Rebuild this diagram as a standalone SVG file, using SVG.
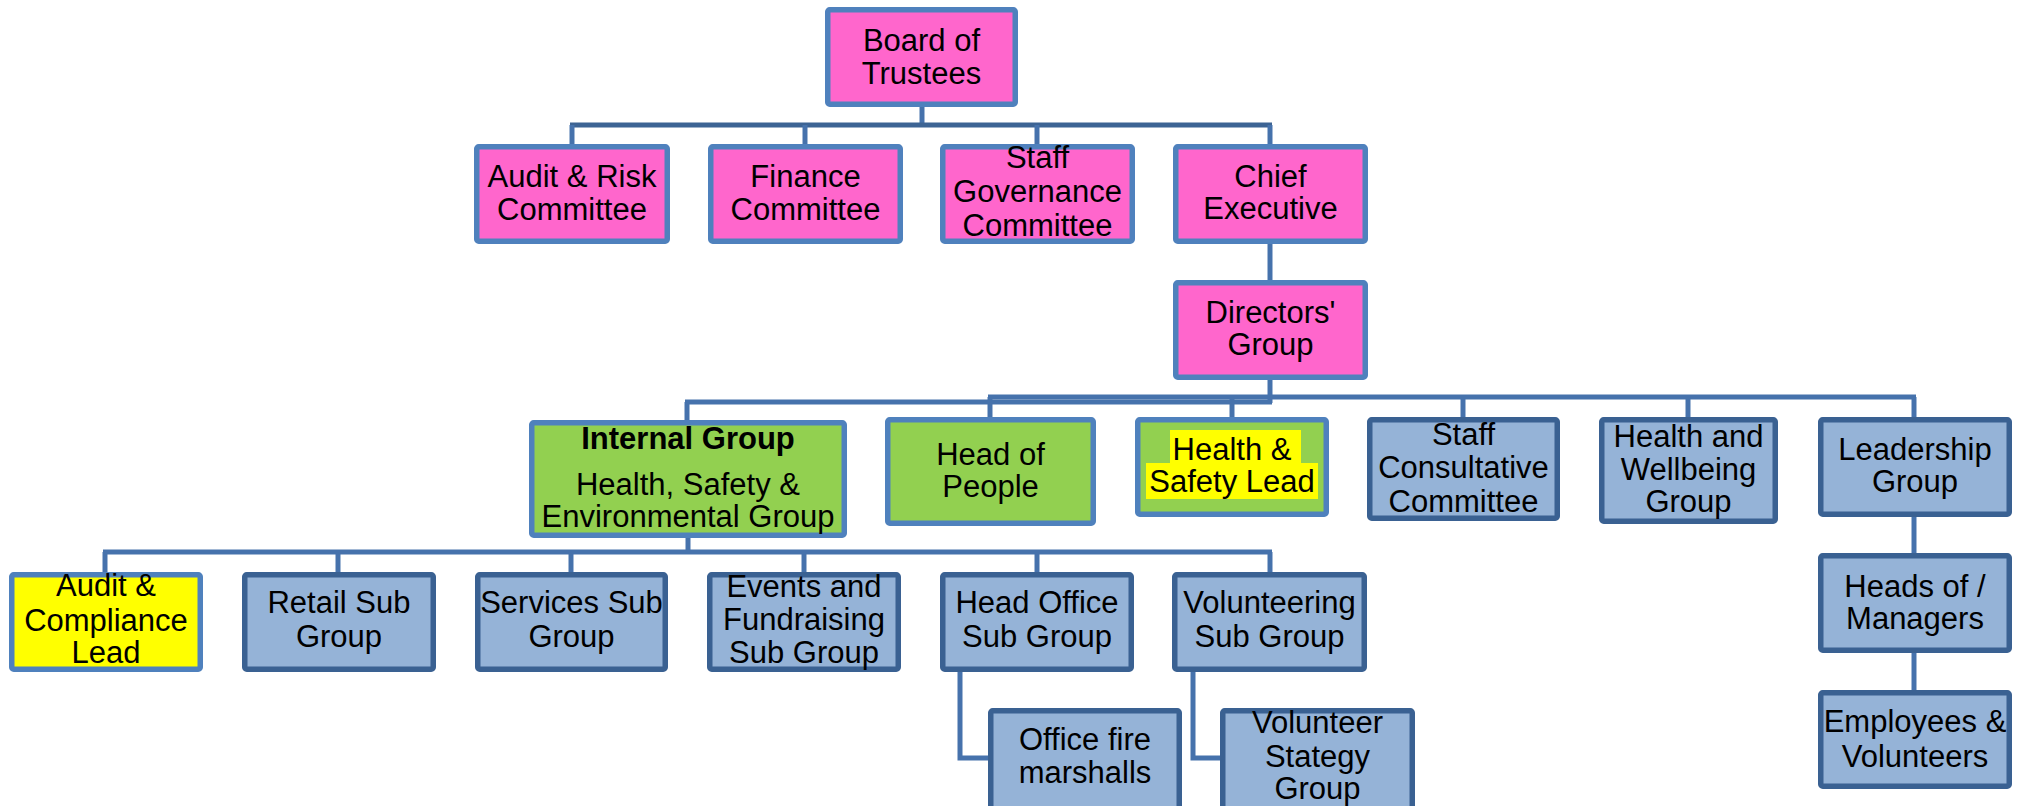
<svg xmlns="http://www.w3.org/2000/svg" width="2027" height="806" viewBox="0 0 2027 806">
  <style>
    .box rect { stroke-width: 5.5; }
    .pink rect { fill: #FF66CC; stroke: #4F81BD; }
    .green rect { fill: #92D050; stroke: #4F81BD; }
    .yellow rect { fill: #FFFF00; stroke: #4F81BD; }
    .blue rect { fill: #95B3D7; stroke: #3A6192; }
    text { font-family: "Liberation Sans", Arial, sans-serif; font-size: 31px; fill: #000; text-anchor: middle; }
    .bold { font-weight: bold; }
    .box rect.hl { fill: #FFFF00; stroke: none; }
    .conn line, .conn polyline { stroke: #4672AC; stroke-width: 5; fill: none; }
    .conn .dark { stroke: #3D6494; }
  </style>
  <rect width="2027" height="806" fill="#FFFFFF"/>

  <!-- connectors -->
  <g id="connectors" class="conn">
    <!-- board to committees -->
    <line x1="922" y1="107" x2="922" y2="125"/>
    <line class="dark" x1="570" y1="125" x2="1272" y2="125"/>
    <line x1="572" y1="125" x2="572" y2="146"/>
    <line x1="805" y1="125" x2="805" y2="146"/>
    <line x1="1037" y1="125" x2="1037" y2="146"/>
    <line x1="1270" y1="125" x2="1270" y2="146"/>
    <!-- chief executive to directors -->
    <line x1="1270" y1="244" x2="1270" y2="282"/>
    <!-- directors to groups -->
    <line x1="1270" y1="380" x2="1270" y2="403"/>
    <line x1="685" y1="402" x2="1272" y2="402"/>
    <line x1="988" y1="397" x2="1916" y2="397"/>
    <line x1="687" y1="402" x2="687" y2="422"/>
    <line x1="990" y1="397" x2="990" y2="419"/>
    <line x1="1232" y1="397" x2="1232" y2="419"/>
    <line x1="1463" y1="397" x2="1463" y2="419"/>
    <line x1="1688" y1="397" x2="1688" y2="419"/>
    <line x1="1914" y1="397" x2="1914" y2="419"/>
    <!-- internal group to sub groups -->
    <line x1="688" y1="538" x2="688" y2="552"/>
    <line x1="103" y1="552" x2="1272" y2="552"/>
    <line x1="105" y1="552" x2="105" y2="574"/>
    <line x1="338" y1="552" x2="338" y2="574"/>
    <line x1="571" y1="552" x2="571" y2="574"/>
    <line x1="804" y1="552" x2="804" y2="574"/>
    <line x1="1037" y1="552" x2="1037" y2="574"/>
    <line x1="1270" y1="552" x2="1270" y2="574"/>
    <!-- elbows to lower boxes -->
    <polyline points="960,670 960,758 990,758"/>
    <polyline points="1193,670 1193,758 1222,758"/>
    <!-- leadership chain -->
    <line x1="1914" y1="515" x2="1914" y2="555"/>
    <line x1="1914" y1="651" x2="1914" y2="692"/>
  </g>

  <!-- top level -->
  <g id="board-of-trustees" class="box pink">
    <rect x="827.75" y="9.75" width="187.5" height="94.5" rx="2"/>
    <text x="921.5" y="51">Board of</text>
    <text x="921.5" y="84">Trustees</text>
  </g>

  <!-- committees -->
  <g id="audit-risk" class="box pink">
    <rect x="476.75" y="146.75" width="190.5" height="94.5" rx="2"/>
    <text x="572" y="187">Audit &amp; Risk</text>
    <text x="572" y="220">Committee</text>
  </g>
  <g id="finance" class="box pink">
    <rect x="710.75" y="146.75" width="189.5" height="94.5" rx="2"/>
    <text x="805.5" y="187">Finance</text>
    <text x="805.5" y="220">Committee</text>
  </g>
  <g id="staff-governance" class="box pink">
    <rect x="942.75" y="146.75" width="189.5" height="94.5" rx="2"/>
    <text x="1037.5" y="168">Staff</text>
    <text x="1037.5" y="202">Governance</text>
    <text x="1037.5" y="236">Committee</text>
  </g>
  <g id="chief-executive" class="box pink">
    <rect x="1175.75" y="146.75" width="189.5" height="94.5" rx="2"/>
    <text x="1270.5" y="187">Chief</text>
    <text x="1270.5" y="219">Executive</text>
  </g>
  <g id="directors-group" class="box pink">
    <rect x="1175.75" y="282.75" width="189.5" height="94.5" rx="2"/>
    <text x="1270.5" y="323">Directors'</text>
    <text x="1270.5" y="355">Group</text>
  </g>

  <!-- groups under directors -->
  <g id="internal-group" class="box green">
    <rect x="531.75" y="422.75" width="312.5" height="112.5" rx="2"/>
    <text class="bold" x="688" y="449">Internal Group</text>
    <text x="688" y="495">Health, Safety &amp;</text>
    <text x="688" y="527">Environmental Group</text>
  </g>
  <g id="head-of-people" class="box green">
    <rect x="887.75" y="419.75" width="205.5" height="103.5" rx="2"/>
    <text x="990.5" y="465">Head of</text>
    <text x="990.5" y="497">People</text>
  </g>
  <g id="health-safety-lead" class="box green">
    <rect x="1137.75" y="419.75" width="188.5" height="94.5" rx="2"/>
    <rect class="hl" x="1170" y="430" width="131" height="34"/>
    <rect class="hl" x="1146" y="463" width="172" height="36"/>
    <text x="1232" y="460">Health &amp;</text>
    <text x="1232" y="492">Safety Lead</text>
  </g>
  <g id="staff-consultative" class="box blue">
    <rect x="1369.75" y="419.75" width="187.5" height="98.5" rx="2"/>
    <text x="1463.5" y="445">Staff</text>
    <text x="1463.5" y="478">Consultative</text>
    <text x="1463.5" y="512">Committee</text>
  </g>
  <g id="health-wellbeing" class="box blue">
    <rect x="1601.75" y="419.75" width="173.5" height="101.5" rx="2"/>
    <text x="1688.5" y="447">Health and</text>
    <text x="1688.5" y="480">Wellbeing</text>
    <text x="1688.5" y="512">Group</text>
  </g>
  <g id="leadership-group" class="box blue">
    <rect x="1820.75" y="419.75" width="188.5" height="94.5" rx="2"/>
    <text x="1915" y="460">Leadership</text>
    <text x="1915" y="492">Group</text>
  </g>

  <!-- sub groups -->
  <g id="audit-compliance-lead" class="box yellow">
    <rect x="11.75" y="574.75" width="188.5" height="94.5" rx="2"/>
    <text x="106" y="596">Audit &amp;</text>
    <text x="106" y="631">Compliance</text>
    <text x="106" y="663">Lead</text>
  </g>
  <g id="retail-sub-group" class="box blue">
    <rect x="244.75" y="574.75" width="188.5" height="94.5" rx="2"/>
    <text x="339" y="613">Retail Sub</text>
    <text x="339" y="647">Group</text>
  </g>
  <g id="services-sub-group" class="box blue">
    <rect x="477.75" y="574.75" width="187.5" height="94.5" rx="2"/>
    <text x="571.5" y="613">Services Sub</text>
    <text x="571.5" y="647">Group</text>
  </g>
  <g id="events-fundraising" class="box blue">
    <rect x="709.75" y="574.75" width="188.5" height="94.5" rx="2"/>
    <text x="804" y="597">Events and</text>
    <text x="804" y="630">Fundraising</text>
    <text x="804" y="663">Sub Group</text>
  </g>
  <g id="head-office-sub-group" class="box blue">
    <rect x="942.75" y="574.75" width="188.5" height="94.5" rx="2"/>
    <text x="1037" y="613">Head Office</text>
    <text x="1037" y="647">Sub Group</text>
  </g>
  <g id="volunteering-sub-group" class="box blue">
    <rect x="1174.75" y="574.75" width="189.5" height="94.5" rx="2"/>
    <text x="1269.5" y="613">Volunteering</text>
    <text x="1269.5" y="647">Sub Group</text>
  </g>
  <g id="office-fire-marshalls" class="box blue">
    <rect x="990.75" y="710.75" width="188.5" height="98" rx="2"/>
    <text x="1085" y="750">Office fire</text>
    <text x="1085" y="783">marshalls</text>
  </g>
  <g id="volunteer-strategy-group" class="box blue">
    <rect x="1222.75" y="710.75" width="189.5" height="98" rx="2"/>
    <text x="1317.5" y="733">Volunteer</text>
    <text x="1317.5" y="767">Stategy</text>
    <text x="1317.5" y="799">Group</text>
  </g>

  <!-- leadership chain -->
  <g id="heads-managers" class="box blue">
    <rect x="1820.75" y="555.75" width="188.5" height="94.5" rx="2"/>
    <text x="1915" y="597">Heads of /</text>
    <text x="1915" y="629">Managers</text>
  </g>
  <g id="employees-volunteers" class="box blue">
    <rect x="1820.75" y="692.75" width="188.5" height="93.5" rx="2"/>
    <text x="1915" y="732">Employees &amp;</text>
    <text x="1915" y="767">Volunteers</text>
  </g>
</svg>
